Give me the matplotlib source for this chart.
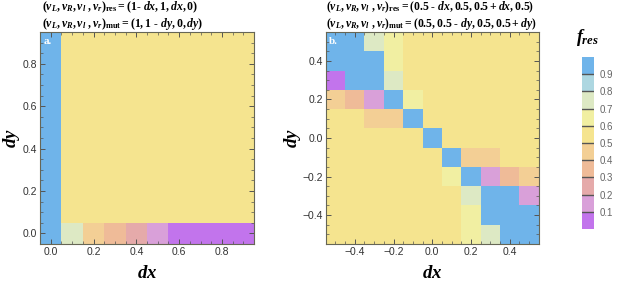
import numpy as np
import matplotlib.pyplot as plt
from matplotlib.colors import ListedColormap, BoundaryNorm

plt.rcParams["mathtext.fontset"] = "custom"
plt.rcParams["mathtext.rm"] = "Liberation Serif:bold"
plt.rcParams["mathtext.it"] = "Liberation Serif:bold:italic"
plt.rcParams["mathtext.bf"] = "Liberation Serif:bold"
plt.rcParams["font.family"] = ["Liberation Sans", "DejaVu Sans"]

# f_res values, rows listed from bottom (dy smallest) to top
dx_a = [0.0, 0.1, 0.2, 0.3, 0.4, 0.5, 0.6, 0.7, 0.8, 0.9]
dy_a = [0.0, 0.1, 0.2, 0.3, 0.4, 0.5, 0.6, 0.7, 0.8, 0.9]
fres_a = [
    [0.95, 0.75, 0.45, 0.35, 0.25, 0.15, 0.05, 0.05, 0.05, 0.05],
    [0.95, 0.55, 0.55, 0.55, 0.55, 0.55, 0.55, 0.55, 0.55, 0.55],
    [0.95, 0.55, 0.55, 0.55, 0.55, 0.55, 0.55, 0.55, 0.55, 0.55],
    [0.95, 0.55, 0.55, 0.55, 0.55, 0.55, 0.55, 0.55, 0.55, 0.55],
    [0.95, 0.55, 0.55, 0.55, 0.55, 0.55, 0.55, 0.55, 0.55, 0.55],
    [0.95, 0.55, 0.55, 0.55, 0.55, 0.55, 0.55, 0.55, 0.55, 0.55],
    [0.95, 0.55, 0.55, 0.55, 0.55, 0.55, 0.55, 0.55, 0.55, 0.55],
    [0.95, 0.55, 0.55, 0.55, 0.55, 0.55, 0.55, 0.55, 0.55, 0.55],
    [0.95, 0.55, 0.55, 0.55, 0.55, 0.55, 0.55, 0.55, 0.55, 0.55],
    [0.95, 0.55, 0.55, 0.55, 0.55, 0.55, 0.55, 0.55, 0.55, 0.55],
]

dx_b = [-0.5, -0.4, -0.3, -0.2, -0.1, 0.0, 0.1, 0.2, 0.3, 0.4, 0.5]
dy_b = [-0.5, -0.4, -0.3, -0.2, -0.1, 0.0, 0.1, 0.2, 0.3, 0.4, 0.5]
fres_b = [
    [0.55, 0.55, 0.55, 0.55, 0.55, 0.55, 0.55, 0.65, 0.75, 0.95, 0.95],
    [0.55, 0.55, 0.55, 0.55, 0.55, 0.55, 0.55, 0.65, 0.95, 0.95, 0.95],
    [0.55, 0.55, 0.55, 0.55, 0.55, 0.55, 0.55, 0.75, 0.95, 0.95, 0.15],
    [0.55, 0.55, 0.55, 0.55, 0.55, 0.55, 0.65, 0.95, 0.15, 0.35, 0.45],
    [0.55, 0.55, 0.55, 0.55, 0.55, 0.55, 0.95, 0.45, 0.45, 0.55, 0.55],
    [0.55, 0.55, 0.55, 0.55, 0.55, 0.95, 0.55, 0.55, 0.55, 0.55, 0.55],
    [0.55, 0.55, 0.45, 0.45, 0.95, 0.55, 0.55, 0.55, 0.55, 0.55, 0.55],
    [0.45, 0.35, 0.15, 0.95, 0.65, 0.55, 0.55, 0.55, 0.55, 0.55, 0.55],
    [0.05, 0.95, 0.95, 0.75, 0.55, 0.55, 0.55, 0.55, 0.55, 0.55, 0.55],
    [0.95, 0.95, 0.95, 0.65, 0.55, 0.55, 0.55, 0.55, 0.55, 0.55, 0.55],
    [0.95, 0.95, 0.75, 0.65, 0.55, 0.55, 0.55, 0.55, 0.55, 0.55, 0.55],
]

levels = [0.0, 0.1, 0.2, 0.3, 0.4, 0.5, 0.6, 0.7, 0.8, 0.9, 1.0]
band_mid = [0.05, 0.15, 0.25, 0.35, 0.45, 0.55, 0.65, 0.75, 0.85, 0.95]
cb_ticks = [0.1, 0.2, 0.3, 0.4, 0.5, 0.6, 0.7, 0.8, 0.9]
band_colors = ["#c274ec", "#d9a0d9", "#e5aaaa", "#efbb98", "#f3cf95",
               "#f5e48f", "#f1efa2", "#dde9c4", "#add7e1", "#6fb4ea"]

cmap = ListedColormap(band_colors)
norm = BoundaryNorm(levels, cmap.N)

fig = plt.figure(figsize=(6.17, 2.83), dpi=100)
ax_a = fig.add_axes([0.0648, 0.138, 0.347, 0.749])
ax_b = fig.add_axes([0.528, 0.138, 0.345, 0.749])
cax = fig.add_axes([0.943, 0.191, 0.0195, 0.608])


def cell_edges(vals):
    v = np.asarray(vals)
    step = v[1] - v[0]
    return np.append(v - step / 2, v[-1] + step / 2)


def style_axes(ax, ticks, labels, ylab_x):
    ax.set_xticks(ticks)
    ax.set_yticks(ticks)
    ax.set_xticklabels(labels)
    ax.set_yticklabels(labels)
    ax.xaxis.set_minor_locator(plt.MultipleLocator(0.05))
    ax.yaxis.set_minor_locator(plt.MultipleLocator(0.05))
    ax.tick_params(which="both", direction="in", top=True, right=True,
                   color="#555555", labelsize=7.5, labelcolor="#333333", pad=2)
    ax.tick_params(which="major", length=3.5, width=0.7)
    ax.tick_params(which="minor", length=2, width=0.5)
    for s in ax.spines.values():
        s.set_color("#666655")
        s.set_linewidth(0.8)
    ax.set_xlabel(r"$dx$", fontsize=13.5)
    ax.set_ylabel(r"$dy$", fontsize=13.5)
    ax.xaxis.set_label_coords(0.5, -0.1)
    ax.yaxis.set_label_coords(ylab_x, 0.5)


ax_a.pcolormesh(cell_edges(dx_a), cell_edges(dy_a), np.array(fres_a),
                cmap=cmap, norm=norm)
style_axes(ax_a, [0.0, 0.2, 0.4, 0.6, 0.8],
           ["0.0", "0.2", "0.4", "0.6", "0.8"], -0.085)
ax_a.set_title(r"$(v_L, v_R, v_l\ , v_r)_{\mathrm{res}} = (\mathrm{1}$- $dx, \mathrm{1}, dx, \mathrm{0})$" "\n"
               r"$(v_L, v_R, v_l\ , v_r)_{\mathrm{mut}} = (\mathrm{1, 1}$ - $dy, \mathrm{0}, dy)$",
               fontsize=8.5, loc="left", x=0.01, pad=3, linespacing=1.05,
               family="Liberation Serif", fontweight="bold")
ax_a.text(0.015, 0.975, "a.", transform=ax_a.transAxes, color="white",
          family="Liberation Serif", fontweight="bold", fontsize=8, va="top")

ax_b.pcolormesh(cell_edges(dx_b), cell_edges(dy_b), np.array(fres_b),
                cmap=cmap, norm=norm)
style_axes(ax_b, [-0.4, -0.2, 0.0, 0.2, 0.4],
           ["\u22120.4", "\u22120.2", "0.0", "0.2", "0.4"], -0.105)
ax_b.set_title(r"$(v_L, v_R, v_l\ , v_r)_{\mathrm{res}} = (\mathrm{0.5}$ - $dx, \mathrm{0.5, 0.5} + dx, \mathrm{0.5})$" "\n"
               r"$(v_L, v_R, v_l\ , v_r)_{\mathrm{mut}} = (\mathrm{0.5, 0.5}$ - $dy, \mathrm{0.5, 0.5} + dy)$",
               fontsize=8.4, loc="left", x=0.0, pad=3, linespacing=1.05,
               family="Liberation Serif", fontweight="bold")
ax_b.text(0.015, 0.975, "b.", transform=ax_b.transAxes, color="white",
          family="Liberation Serif", fontweight="bold", fontsize=8, va="top")

# colour legend drawn as a single-column mesh
cax.pcolormesh([0, 1], levels, np.array(band_mid).reshape(-1, 1),
               cmap=cmap, norm=norm)
for lv in cb_ticks:
    cax.axhline(lv, color="#555555", lw=1.0)
cax.set_xlim(0, 1)
cax.set_ylim(0, 1)
cax.set_xticks([])
cax.yaxis.tick_right()
cax.set_yticks(cb_ticks)
cax.set_yticklabels(["0.1", "0.2", "0.3", "0.4", "0.5", "0.6", "0.7", "0.8", "0.9"])
cax.tick_params(length=0, labelsize=7, labelcolor="#666666", pad=4)
for s in cax.spines.values():
    s.set_visible(False)
fig.text(0.953, 0.83, r"$f_{res}$", fontsize=13, ha="center", va="bottom")

fig.savefig("out.png", dpi=100)
